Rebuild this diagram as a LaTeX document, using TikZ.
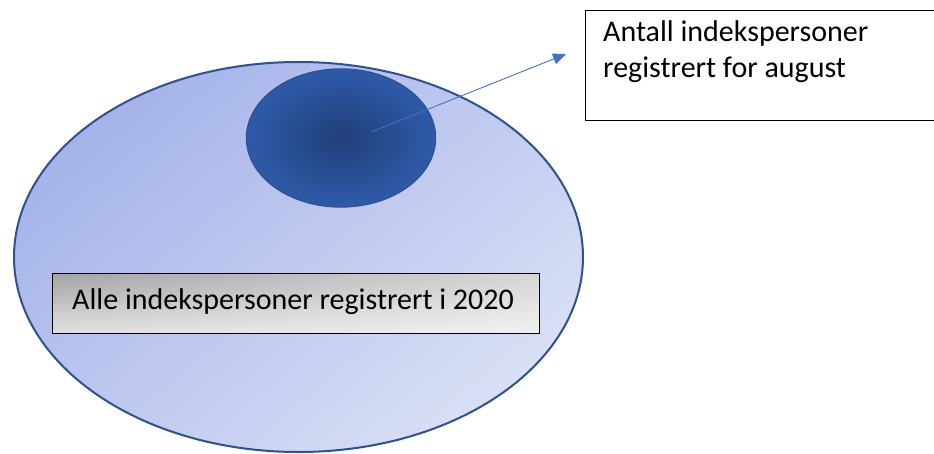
\documentclass[tikz,border=0pt]{standalone}
\usepackage{fontspec}
\setmainfont{Carlito}
\usetikzlibrary{shapes.geometric,arrows.meta,fadings}
\definecolor{bigA}{HTML}{A5B3EA}
\definecolor{bigB}{HTML}{D9DFF5}
\definecolor{ringc}{HTML}{2F528F}
\definecolor{darkc}{HTML}{213F79}
\definecolor{edgec}{HTML}{3264BA}
\definecolor{arrowc}{HTML}{4472C4}
\definecolor{grayA}{HTML}{A4A4A4}
\definecolor{grayB}{HTML}{E2E2E2}
\pgfdeclareradialshading{smallrad}{\pgfpoint{0bp}{0bp}}{color(0bp)=(darkc); color(12bp)=(darkc!65!edgec); color(34bp)=(edgec); color(50bp)=(edgec)}
\tikzfading[name=lighttoright, left color=transparent!100, right color=transparent!0]
\tikzset{
  bigset/.style={ellipse, draw=ringc, line width=2pt, inner sep=0pt,
    minimum width=569pt, minimum height=390pt,
    top color=bigA, bottom color=bigB, shading angle=40},
  subset/.style={ellipse, draw=ringc, line width=1.4pt, inner sep=0pt,
    minimum width=189pt, minimum height=138pt, shading=smallrad},
  notebox/.style={draw=black, line width=0.9pt, fill=white, inner sep=0pt,
    minimum width=400pt, minimum height=110pt, anchor=north west},
  labelbox/.style={draw=black, line width=0.9pt, inner sep=0pt,
    minimum width=487pt, minimum height=60pt, anchor=north west,
    top color=grayA, bottom color=grayB,
    path picture={\fill[white, opacity=0.55, path fading=lighttoright]
      (path picture bounding box.south west) rectangle (path picture bounding box.north east);}},
  txt/.style={font=\fontsize{30pt}{36pt}\selectfont, text=black, inner sep=0pt, align=left, anchor=base west},
  pointer/.style={draw=arrowc, line width=0.9pt, -{Triangle[length=13pt,width=11pt]}}
}
\begin{document}
\begin{tikzpicture}[x=1pt,y=-1pt]
\clip (0,0) rectangle (934,454);
\fill[white] (0,0) rectangle (934,454);
\node[bigset] (all) at (298.5,257) {};
\node[subset] (aug) at (341,138) {};
\node[notebox] (note) at (585,10) {};
\node[txt] (notetext) at (603,78) {Antall indekspersoner\\registrert for august};
\node[labelbox] (lbox) at (52,273) {};
\node[txt] (ltext) at (72,309) {Alle indekspersoner registrert i 2020};
\coordinate (from) at (371,132);
\coordinate (to) at (566,54);
\draw[pointer] (from) -- (to);
\end{tikzpicture}
\end{document}
